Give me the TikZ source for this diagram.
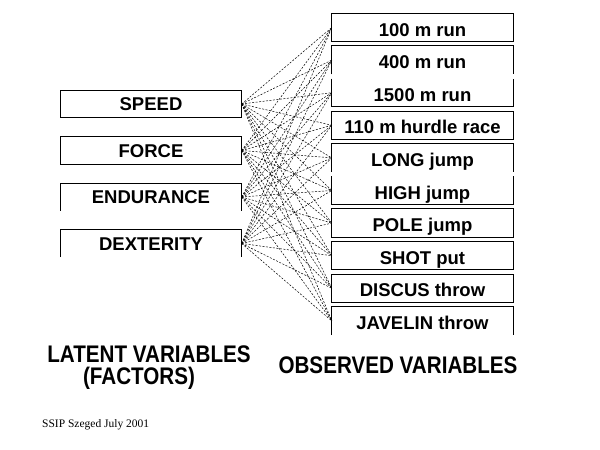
\documentclass[tikz,border=0pt]{standalone}
\usepackage{fontspec}
\setmainfont{Liberation Sans}
\newfontfamily\boxfont{Liberation Sans}
\newfontfamily\titlefont{Liberation Sans}[FakeStretch=0.86]
\newfontfamily\notefont{Liberation Serif}
\begin{document}
\begin{tikzpicture}[x=1pt,y=-1pt,
  factor/.style={minimum width=181pt,minimum height=27pt,inner sep=0pt,text height=13pt,text depth=0pt,font=\fontsize{18.5}{22}\boxfont\bfseries},
  observed/.style={minimum width=181pt,minimum height=28pt,inner sep=0pt,text height=17pt,text depth=0pt,font=\fontsize{18.5}{22}\boxfont\bfseries},
  frame/.style={draw=black,line width=1pt},
  link/.style={draw=black,line width=0.5pt,dash pattern=on 2pt off 1.5pt},
  title/.style={inner sep=0pt,font=\fontsize{24}{28}\titlefont\bfseries},
  note/.style={inner sep=0pt,font=\fontsize{11.5}{13}\notefont}]
\useasboundingbox (0,0) rectangle (600,450);
\pgfmathsetmacro{\obsx}{422.5}
\pgfmathsetmacro{\obsstep}{32.6}
\node[factor] (speed) at (151,104) {SPEED};
\node[factor] (force) at (151,150.5) {FORCE};
\node[factor] (endur) at (151,197) {ENDURANCE};
\node[factor] (dext) at (151,243.5) {DEXTERITY};
\node[observed] (run100) at (\obsx,27.5) {100 m run};
\node[observed] (run400) at (\obsx,27.5+\obsstep) {400 m run};
\node[observed] (run1500) at (\obsx,27.5+2*\obsstep) {1500 m run};
\node[observed] (hurdle) at (\obsx,27.5+3*\obsstep) {110 m hurdle race};
\node[observed] (long) at (\obsx,27.5+4*\obsstep) {LONG jump};
\node[observed] (high) at (\obsx,27.5+5*\obsstep) {HIGH jump};
\node[observed] (pole) at (\obsx,27.5+6*\obsstep) {POLE jump};
\node[observed] (shot) at (\obsx,27.5+7*\obsstep) {SHOT put};
\node[observed] (discus) at (\obsx,27.5+8*\obsstep) {DISCUS throw};
\node[observed] (javelin) at (\obsx,27.5+9*\obsstep) {JAVELIN throw};
\foreach \f in {speed,force,endur,dext}
  \foreach \o in {run100,run400,run1500,hurdle,long,high,pole,shot,discus,javelin}
    \draw[link] (\f.east) -- (\o.west);
\foreach \n in {speed,force,run100,hurdle,pole,shot,discus}
  \draw[frame] (\n.south west) rectangle (\n.north east);
\foreach \n in {endur,dext,run400,long,javelin}
  \draw[frame] (\n.south west) -- (\n.north west) -- (\n.north east) -- (\n.south east);
\foreach \n in {run1500,high}
  \draw[frame] (\n.north west) -- (\n.south west) -- (\n.south east) -- (\n.north east);
\node[title,anchor=base] (latent) at (149,362) {LATENT VARIABLES};
\node[title,anchor=base] (factors) at (139,384) {(FACTORS)};
\node[title,anchor=base] (observedlabel) at (398,373.5) {OBSERVED VARIABLES};
\node[note,anchor=base west] (credit) at (42,427) {SSIP Szeged July 2001};
\end{tikzpicture}
\end{document}
